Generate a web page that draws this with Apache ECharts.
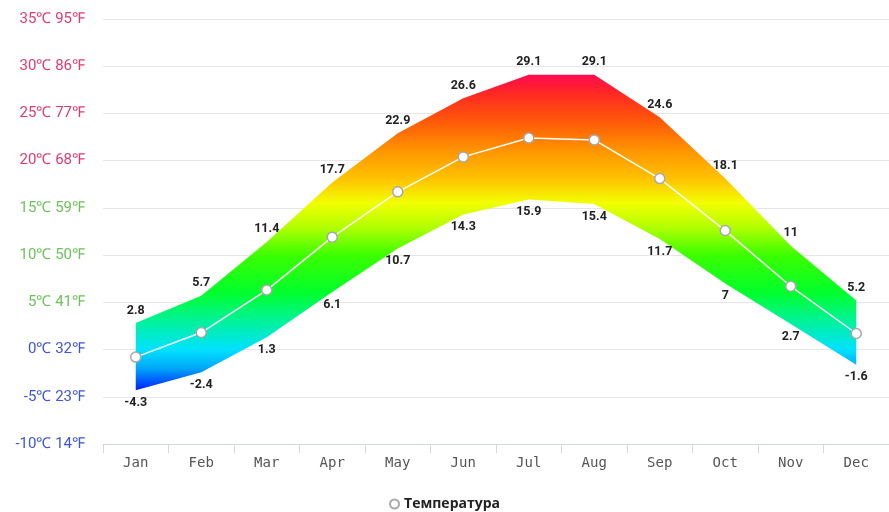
<!DOCTYPE html>
<html>
<head>
<meta charset="utf-8">
<script src="https://cdn.jsdelivr.net/npm/echarts@6/dist/echarts.min.js"></script>
<style>
  html, body { margin: 0; padding: 0; background: #fff; }
  #chart { width: 889px; height: 512px; }
</style>
</head>
<body>
<div id="chart"></div>
<script>
// Monthly temperatures, °C
const months = ['Jan', 'Feb', 'Mar', 'Apr', 'May', 'Jun', 'Jul', 'Aug', 'Sep', 'Oct', 'Nov', 'Dec'];
const maxTemp = [2.8, 5.7, 11.4, 17.7, 22.9, 26.6, 29.1, 29.1, 24.6, 18.1, 11, 5.2];
const minTemp = [-4.3, -2.4, 1.3, 6.1, 10.7, 14.3, 15.9, 15.4, 11.7, 7, 2.7, -1.6];
const meanTemp = [-0.8, 1.8, 6.3, 11.9, 16.7, 20.4, 22.4, 22.2, 18.1, 12.6, 6.7, 1.7];
const seriesName = 'Температура';

// colour ramp for the band, keyed by temperature
const ramp = [
  [29.1, '#ff0a50'], [27, '#ff2a22'], [24, '#ff5c08'], [21, '#ff9600'],
  [18, '#ffc400'], [15.5, '#f2ff00'], [13, '#b4ff00'], [10, '#3cff00'],
  [6, '#00ff2c'], [3, '#00f29a'], [0, '#00e2ff'], [-2, '#00a6f8'], [-4.3, '#0020ff']
];
const bandTop = Math.max(...maxTemp), bandBottom = Math.min(...minTemp);
const stops = ramp.map(([v, c]) => ({
  offset: Math.min(1, Math.max(0, (bandTop - v) / (bandTop - bandBottom))),
  color: c
}));

function labelColor(v) {
  if (v >= 20) return '#e23a70';
  if (v >= 5) return '#6cc35a';
  return '#3f55d8';
}

const valueLabel = {
  show: true, distance: 6,
  color: '#222', fontWeight: 'bold', fontSize: 12.5, fontFamily: 'Roboto, sans-serif'
};
// invisible anchor symbols so the band edges can carry labels
const hiddenSymbol = { symbol: 'circle', symbolSize: 0.1, showSymbol: true, itemStyle: { color: 'rgba(0,0,0,0)' } };

const chart = echarts.init(document.getElementById('chart'));
chart.setOption({
  animation: false,
  grid: { left: 103, right: -8, top: 19, bottom: 68 },
  legend: {
    top: 492,
    left: 'center',
    data: [{ name: seriesName, icon: 'circle' }],
    itemWidth: 9, itemHeight: 9,
    itemGap: 6,
    textStyle: { fontWeight: 'bold', fontSize: 14, color: '#222', fontFamily: '"Open Sans", sans-serif' }
  },
  xAxis: {
    type: 'category',
    data: months,
    boundaryGap: true,
    axisLine: { onZero: false, lineStyle: { color: '#d4d8e0' } },
    axisTick: { show: true, length: 9, lineStyle: { color: '#d4d8e0' } },
    axisLabel: { color: '#555', fontSize: 14, fontFamily: '"DejaVu Sans Mono", monospace', margin: 12 },
    splitLine: { show: false }
  },
  yAxis: {
    type: 'value',
    min: -10, max: 35, interval: 5,
    axisLine: { show: false },
    axisTick: { show: false },
    splitLine: { lineStyle: { color: '#e6e6e6' } },
    axisLabel: {
      margin: 18,
      fontSize: 15,
      fontFamily: 'Roboto, sans-serif',
      formatter: v => v + '℃ ' + Math.round(v * 9 / 5 + 32) + '℉',
      color: v => labelColor(Number(v))
    }
  },
  series: [
    Object.assign({
      name: 'base',
      type: 'line',
      stack: 'band',
      stackStrategy: 'all',
      data: minTemp,
      lineStyle: { opacity: 0 },
      label: Object.assign({ position: 'bottom', formatter: p => minTemp[p.dataIndex] }, valueLabel),
      silent: true
    }, hiddenSymbol),
    Object.assign({
      name: 'range',
      type: 'line',
      stack: 'band',
      stackStrategy: 'all',
      data: maxTemp.map((v, i) => +(v - minTemp[i]).toFixed(2)),
      lineStyle: { opacity: 0 },
      areaStyle: { opacity: 1, color: new echarts.graphic.LinearGradient(0, 0, 0, 1, stops) },
      label: Object.assign({ position: 'top', formatter: p => maxTemp[p.dataIndex] }, valueLabel),
      silent: true
    }, hiddenSymbol),
    {
      name: seriesName,
      type: 'line',
      data: meanTemp,
      symbol: 'circle',
      symbolSize: 10,
      itemStyle: { color: '#ffffff', borderColor: '#a8a8a8', borderWidth: 1.5 },
      lineStyle: { color: '#ffffff', width: 1.5 },
      z: 5
    }
  ]
});
</script>
</body>
</html>
